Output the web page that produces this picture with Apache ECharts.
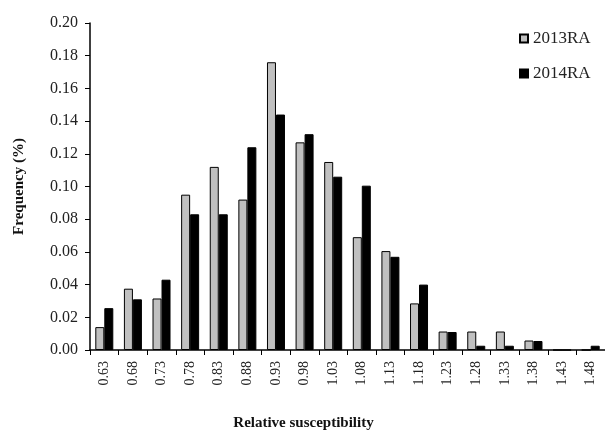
<!DOCTYPE html>
<html>
<head>
<meta charset="utf-8">
<script src="https://cdn.jsdelivr.net/npm/echarts@6/dist/echarts.min.js"></script>
<style>html,body{margin:0;padding:0;background:#fff;}#c{width:605px;height:436px;}</style>
</head>
<body>
<div id="c"></div>
<script>
const categories = ['0.63','0.68','0.73','0.78','0.83','0.88','0.93','0.98','1.03','1.08','1.13','1.18','1.23','1.28','1.33','1.38','1.43','1.48'];
const ra2013 = [0.014,0.0375,0.0315,0.095,0.112,0.092,0.176,0.127,0.115,0.069,0.0605,0.0285,0.0113,0.0113,0.0113,0.0058,0,0];
const ra2014 = [0.0256,0.031,0.043,0.083,0.083,0.124,0.144,0.132,0.106,0.1005,0.057,0.040,0.011,0.0026,0.0026,0.0055,0,0.0026];
const yTicks = {min:0, max:0.20, interval:0.02};
const FONT = '"Liberation Serif", "Times New Roman", serif';

const chart = echarts.init(document.getElementById('c'), null, {renderer:'canvas'});
chart.setOption({
  animation:false,
  backgroundColor:'#fff',
  grid:{left:90, right:-5, top:23, bottom:77, containLabel:false},
  legend:{
    orient:'vertical', left:514, top:25, itemWidth:8, itemHeight:8, itemGap:18,
    textStyle:{fontFamily:FONT, fontSize:17, color:'#222'},
    data:[{name:'2013RA', icon:'rect'},{name:'2014RA', icon:'rect'}]
  },
  xAxis:{
    type:'category', data:categories,
    axisLine:{lineStyle:{color:'#000', width:1.5}},
    axisTick:{show:true, length:5, alignWithLabel:false, lineStyle:{color:'#000'}},
    axisLabel:{interval:0, rotate:90, fontFamily:FONT, fontSize:14, color:'#222', margin:11},
    name:'Relative susceptibility', nameLocation:'middle', nameGap:66,
    nameTextStyle:{fontFamily:FONT, fontSize:15, fontWeight:'bold', color:'#111', padding:[0,88,0,0]}
  },
  yAxis:{
    type:'value', min:yTicks.min, max:yTicks.max, interval:yTicks.interval,
    splitLine:{show:false},
    axisLine:{show:true, lineStyle:{color:'#000', width:1.5}},
    axisTick:{show:true, length:5, lineStyle:{color:'#000'}},
    axisLabel:{formatter:v=>v.toFixed(2), fontFamily:FONT, fontSize:16, color:'#222', margin:12},
    name:'Frequency (%)', nameLocation:'middle', nameGap:63,
    nameTextStyle:{fontFamily:FONT, fontSize:15, fontWeight:'bold', color:'#111'}
  },
  series:[
    {name:'2013RA', type:'bar', data:ra2013, barWidth:9, barGap:'0%',
     itemStyle:{color:'#c0c0c0', borderColor:'#000', borderWidth:1}},
    {name:'2014RA', type:'bar', data:ra2014, barWidth:9, barGap:'0%',
     itemStyle:{color:'#000', borderColor:'#000', borderWidth:1}}
  ]
});
</script>
</body>
</html>
